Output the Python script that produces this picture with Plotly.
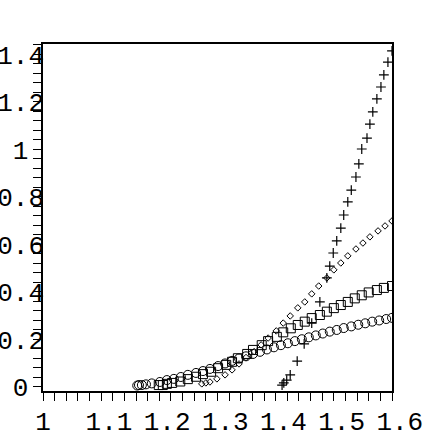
import plotly.graph_objects as go

# ---- data ----
circle_x = [1.162, 1.165, 1.170, 1.177, 1.187, 1.201, 1.213, 1.225, 1.237, 1.249,
            1.263, 1.275, 1.287, 1.301, 1.313, 1.325, 1.337, 1.349, 1.361, 1.373,
            1.385, 1.397, 1.409, 1.421, 1.433, 1.445, 1.457, 1.469, 1.481, 1.493,
            1.505, 1.517, 1.530, 1.542, 1.554, 1.566, 1.578, 1.590, 1.600]
circle_y = [0.006, 0.008, 0.008, 0.011, 0.015, 0.021, 0.029, 0.034, 0.042, 0.051,
            0.059, 0.067, 0.076, 0.088, 0.099, 0.110, 0.120, 0.129, 0.139, 0.148,
            0.158, 0.167, 0.176, 0.184, 0.193, 0.201, 0.209, 0.217, 0.225, 0.233,
            0.240, 0.248, 0.255, 0.262, 0.268, 0.275, 0.280, 0.286, 0.291]

square_x = [1.199, 1.206, 1.213, 1.222, 1.236, 1.249, 1.263, 1.275, 1.289, 1.301,
            1.315, 1.325, 1.335, 1.351, 1.361, 1.376, 1.387, 1.402, 1.413, 1.426,
            1.438, 1.450, 1.462, 1.476, 1.488, 1.500, 1.512, 1.524, 1.536, 1.548,
            1.560, 1.574, 1.586, 1.600]
square_y = [0.008, 0.008, 0.013, 0.017, 0.023, 0.033, 0.043, 0.054, 0.064, 0.079,
            0.093, 0.106, 0.121, 0.139, 0.156, 0.176, 0.193, 0.211, 0.230, 0.247,
            0.261, 0.275, 0.290, 0.303, 0.317, 0.332, 0.345, 0.358, 0.373, 0.386,
            0.398, 0.408, 0.417, 0.425]

diamond_x = [1.273, 1.280, 1.287, 1.299, 1.313, 1.325, 1.337, 1.349, 1.363, 1.375,
             1.387, 1.401, 1.413, 1.425, 1.438, 1.450, 1.462, 1.474, 1.488, 1.500,
             1.512, 1.524, 1.538, 1.550, 1.562, 1.576, 1.588, 1.600]
diamond_y = [0.013, 0.017, 0.021, 0.034, 0.051, 0.072, 0.097, 0.124, 0.149, 0.177,
             0.206, 0.236, 0.269, 0.299, 0.333, 0.358, 0.392, 0.425, 0.459, 0.493,
             0.522, 0.552, 0.581, 0.606, 0.632, 0.657, 0.678, 0.699]

plus_x = [1.411, 1.414, 1.419, 1.425, 1.437, 1.449, 1.462, 1.476, 1.488, 1.493,
          1.499, 1.505, 1.512, 1.517, 1.524, 1.530, 1.538, 1.543, 1.548, 1.557,
          1.562, 1.567, 1.574, 1.581, 1.586, 1.593, 1.600]
plus_y = [0.008, 0.017, 0.029, 0.051, 0.109, 0.181, 0.269, 0.358, 0.459, 0.509,
          0.564, 0.615, 0.669, 0.724, 0.779, 0.829, 0.884, 0.939, 1.002, 1.048,
          1.107, 1.158, 1.213, 1.263, 1.314, 1.368, 1.415]

x_ticks = [1.0, 1.1, 1.2, 1.3, 1.4, 1.5, 1.6]
x_tick_text = ["1", "\u00a01.1", "\u00a01.2", "\u00a01.3", "\u00a01.4", "\u00a01.5", "\u00a01.6"]
y_ticks = [0.0, 0.2, 0.4, 0.6, 0.8, 1.0, 1.2, 1.4]
y_tick_text = ["0\u00a0", "0.2", "0.4", "0.6", "0.8", "1\u00a0", "1.2", "1.4"]

FONT = "Liberation Mono, Courier New, monospace"

fig = go.Figure()
fig.add_trace(go.Scatter(x=circle_x, y=circle_y, mode="markers",
                         marker=dict(symbol="circle-open", size=9, color="black",
                                     line=dict(width=1, color="black"))))
fig.add_trace(go.Scatter(x=square_x, y=square_y, mode="markers",
                         marker=dict(symbol="square-open", size=9, color="black",
                                     line=dict(width=1, color="black"))))
fig.add_trace(go.Scatter(x=diamond_x, y=diamond_y, mode="markers",
                         marker=dict(symbol="diamond-open", size=5, color="black",
                                     line=dict(width=1, color="black"))))
fig.add_trace(go.Scatter(x=plus_x, y=plus_y, mode="markers",
                         marker=dict(symbol="cross-thin-open", size=7, color="black",
                                     line=dict(width=1.2, color="black"))))

fig.update_layout(
    width=436, height=436,
    margin=dict(l=43, r=44, t=44, b=45, autoexpand=False),
    paper_bgcolor="white", plot_bgcolor="white",
    showlegend=False,
    font=dict(family=FONT, size=26, color="black"),
)
fig.update_xaxes(
    range=[1.0, 1.6], tickvals=x_ticks, ticktext=x_tick_text, tickangle=0,
    showgrid=False, zeroline=False,
    showline=True, linecolor="black", linewidth=1.5, mirror=True,
    ticks="outside", ticklen=8, tickwidth=1, tickcolor="black",
    minor=dict(dtick=0.02, tick0=1.0, ticks="outside", ticklen=8, tickwidth=1,
               tickcolor="black", showgrid=False),
    tickfont=dict(family=FONT, size=26, color="black"),
    ticklabelstandoff=-2,
    automargin=False,
)
fig.update_yaxes(
    range=[-0.017, 1.444], tickvals=y_ticks, ticktext=y_tick_text,
    showgrid=False, zeroline=False,
    showline=True, linecolor="black", linewidth=1.5, mirror=True,
    ticks="outside", ticklen=8, tickwidth=1, tickcolor="black",
    minor=dict(dtick=0.04, tick0=0.0, ticks="outside", ticklen=8, tickwidth=1,
               tickcolor="black", showgrid=False),
    tickfont=dict(family=FONT, size=26, color="black"),
    ticklabelstandoff=-16,
    automargin=False,
)

fig.write_html("out.html",
               config={"displayModeBar": False},
               post_script="document.body.style.margin='0';document.body.style.overflow='hidden';")
